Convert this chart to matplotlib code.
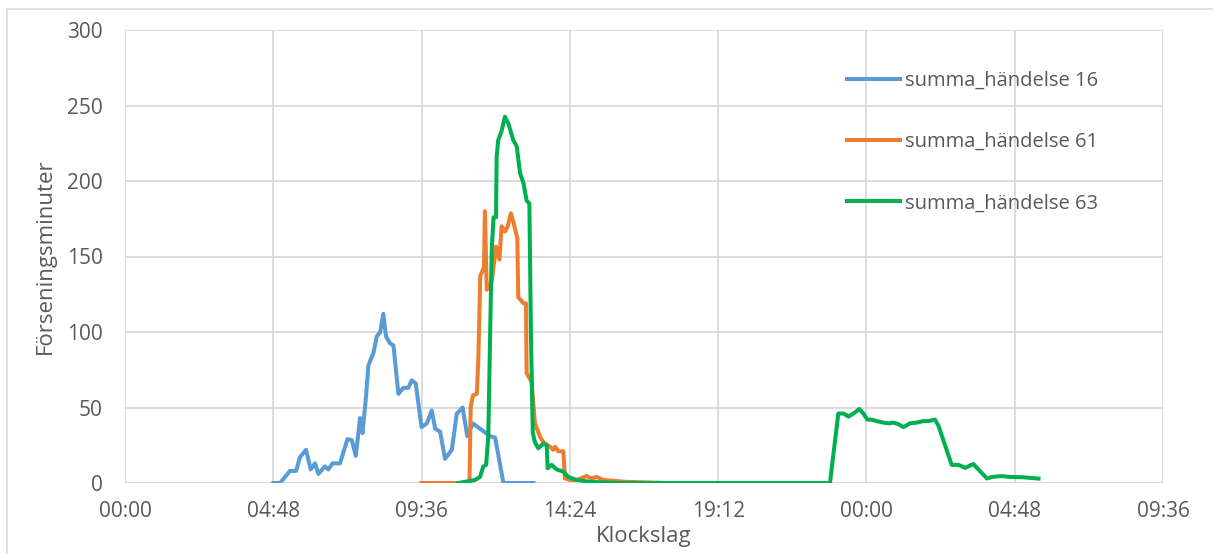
import matplotlib
matplotlib.use("Agg")
import matplotlib.pyplot as plt
from matplotlib.patches import Rectangle

# time in hours since 00:00 (second day continues past 24)
t16 = [4.80, 5.02, 5.34, 5.54, 5.66, 5.86, 6.01, 6.15, 6.26, 6.47, 6.58, 6.72, 6.96,
       7.20, 7.34, 7.47, 7.61, 7.69, 7.80, 7.88, 8.04, 8.15, 8.26, 8.36, 8.45, 8.58,
       8.69, 8.85, 9.01, 9.17, 9.28, 9.41, 9.60, 9.77, 9.93, 10.04, 10.20, 10.36,
       10.58, 10.74, 10.93, 11.08, 11.26, 11.82, 11.98, 12.25, 13.22]
v16 = [0, 0, 8, 8, 17, 22, 9, 13, 6, 11, 9, 13, 13,
       29, 28.5, 18, 43, 33, 57, 78, 86, 97, 100, 112, 97, 92.5,
       91, 59, 63, 63, 68, 66, 37, 39.5, 48, 36, 34, 16,
       22, 46, 50, 31, 39.5, 31, 30, 0, 0]

t61 = [9.60, 11.15, 11.19, 11.26, 11.39, 11.44, 11.50, 11.58, 11.62, 11.65, 11.71,
       11.87, 12.01, 12.12, 12.19, 12.30, 12.39, 12.49, 12.57, 12.70, 12.73, 12.90,
       12.98, 13.00, 13.16, 13.27, 13.43, 13.54, 13.76, 13.86, 13.92, 14.03, 14.19,
       14.24, 14.41, 14.62, 14.94, 15.10, 15.27, 15.48, 16.20, 17.50]
v61 = [0, 0, 50, 58, 59, 84, 137, 141, 143, 180, 128,
       133, 156.5, 148, 170, 166.5, 170, 178.6, 173, 162, 123, 119,
       119, 72.7, 67, 39.5, 31, 27, 24, 22, 24, 21, 21,
       3, 2, 2, 4.6, 3, 4, 2, 0.8, 0]

t63 = [10.79, 11.33, 11.49, 11.60, 11.69, 11.76, 11.82, 11.87, 11.93, 12.01, 12.03,
       12.08, 12.19, 12.30, 12.41, 12.57, 12.68, 12.79, 12.90, 13.00, 13.09, 13.14,
       13.20, 13.27, 13.38, 13.54, 13.65, 13.68, 13.81, 13.97, 14.19, 14.35, 14.62,
       15.05, 16.00, 22.82, 23.09, 23.26, 23.42, 23.58, 23.77, 23.90, 24.03, 24.17,
       24.33, 24.55, 24.71, 24.87, 25.03, 25.20, 25.41, 25.63, 25.84, 26.01, 26.22,
       26.33, 26.76, 26.98, 27.20, 27.46, 27.90, 28.06, 28.38, 28.65, 29.08, 29.57]
v63 = [0, 2, 4, 11, 12, 31, 99, 154, 176, 176, 216,
       227, 233, 242.6, 238, 227, 223, 205, 198.5, 187, 185, 99,
       33, 27, 23, 26, 25, 9.7, 12, 9, 7.5, 4, 2,
       0.8, 0, 0, 46, 46, 44, 46, 49, 46, 42, 42,
       41, 40, 39.5, 40, 39, 37, 39.5, 40, 41, 41, 42,
       38, 12, 12, 10, 12.6, 3, 4, 4.6, 4, 3.8, 2.9]

series = [
    ("summa_händelse 16", t16, v16, "#5B9BD5"),
    ("summa_händelse 61", t61, v61, "#ED7D31"),
    ("summa_händelse 63", t63, v63, "#00B050"),
]

x_ticks = [0, 4.8, 9.6, 14.4, 19.2, 24.0, 28.8, 33.6]
x_labels = ["00:00", "04:48", "09:36", "14:24", "19:12", "00:00", "04:48", "09:36"]
y_ticks = [0, 50, 100, 150, 200, 250, 300]

plt.rcParams['font.family'] = ['Open Sans', 'DejaVu Sans']
text_col = "#595959"
grid_col = "#D9D9D9"

fig = plt.figure(figsize=(12.13, 5.54), dpi=100)
ax = fig.add_axes([125 / 1213, 1 - 483 / 554, 1038 / 1213, 453 / 554])

# outer chart frame
fig.patches.append(Rectangle((7 / 1213, -0.1), 1.2, 1 - 9 / 554 + 0.1,
                             transform=fig.transFigure, fill=False,
                             edgecolor=grid_col, linewidth=1.2))

for name, t, v, col in series:
    ax.plot(t, v, color=col, linewidth=2.9, label=name, solid_joinstyle="round")

ax.set_xlim(0, 33.6)
ax.set_ylim(0, 300)
ax.set_xticks(x_ticks)
ax.set_xticklabels(x_labels)
ax.set_yticks(y_ticks)
ax.grid(True, color=grid_col, linewidth=1.3)
ax.set_axisbelow(True)
for s in ax.spines.values():
    s.set_visible(False)
ax.tick_params(length=0, labelsize=15, labelcolor=text_col)
ax.tick_params(axis="x", pad=13)
ax.tick_params(axis="y", pad=16)

ax.set_xlabel("Klockslag", fontsize=16, color=text_col, labelpad=3)
ax.set_ylabel("Förseningsminuter", fontsize=16, color=text_col, labelpad=8)

leg = ax.legend(loc="upper left", bbox_to_anchor=(0.678, 0.95), frameon=False,
                fontsize=14.5, labelspacing=2.05, handlelength=2.65, handletextpad=0.25,
                labelcolor=text_col)

fig.savefig("out.png", dpi=100)
